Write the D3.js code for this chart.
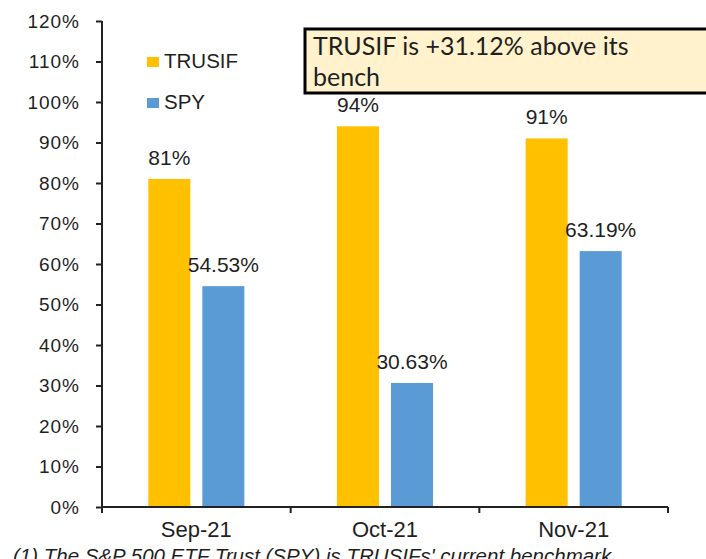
<!DOCTYPE html>
<meta charset="utf-8">
<script src="https://d3js.org/d3.v7.min.js"></script>
<style>
  body { margin: 0; background: #fff; }
  svg text { font-family: "Liberation Sans", Arial, sans-serif; fill: #1f1f1f; }
</style>
<div id="chart"></div>
<script>

// data
var months = ["Sep-21", "Oct-21", "Nov-21"];
var seriesNames = ["TRUSIF", "SPY"];
var trusif = [0.81, 0.94, 0.91];
var spy = [0.5453, 0.3063, 0.6319];
var trusifLabels = ["81%", "94%", "91%"];
var spyLabels = ["54.53%", "30.63%", "63.19%"];
var yTicks = [0, 0.1, 0.2, 0.3, 0.4, 0.5, 0.6, 0.7, 0.8, 0.9, 1.0, 1.1, 1.2];
var colors = ["#FFC000", "#5B9BD5"];

var W = 706, H = 559;
var plot = {left: 102, right: 668, top: 21, bottom: 507};

var svg = d3.select("#chart").append("svg")
  .attr("width", W).attr("height", H);

var x = d3.scaleBand().domain(months).range([plot.left, plot.right]).padding(0);
var xs = d3.scaleBand().domain(seriesNames).range([0, x.bandwidth()])
  .paddingInner(0.222).paddingOuter(0.857);
var y = d3.scaleLinear().domain([0, 1.2]).range([plot.bottom, plot.top]);

// bars
var flat = [];
months.forEach(function(m, i) {
  flat.push({month: m, name: "TRUSIF", value: trusif[i], label: trusifLabels[i]});
  flat.push({month: m, name: "SPY", value: spy[i], label: spyLabels[i]});
});

svg.selectAll("rect.bar").data(flat).enter().append("rect")
  .attr("class", "bar")
  .attr("x", function(d) { return x(d.month) + xs(d.name); })
  .attr("y", function(d) { return y(d.value); })
  .attr("width", xs.bandwidth())
  .attr("height", function(d) { return y(0) - y(d.value); })
  .attr("fill", function(d) { return d.name == "TRUSIF" ? colors[0] : colors[1]; });

svg.selectAll("text.lbl").data(flat).enter().append("text")
  .attr("class", "lbl")
  .attr("x", function(d) { return x(d.month) + xs(d.name) + xs.bandwidth() / 2; })
  .attr("y", function(d) { return y(d.value) - 14; })
  .attr("text-anchor", "middle")
  .style("font-size", "21px")
  .text(function(d) { return d.label; });

// y axis
var yAxis = svg.append("g")
  .attr("transform", "translate(" + plot.left + ",0)")
  .call(d3.axisLeft(y).tickValues(yTicks).tickFormat(d3.format(".0%")).tickSize(6).tickPadding(16));
yAxis.select(".domain").remove();
yAxis.selectAll("line").attr("stroke", "#222").attr("stroke-width", 2);
yAxis.selectAll("text").style("font-size", "19px").style("letter-spacing", "1px")
  .attr("font-family", null).attr("fill", "#1f1f1f");

svg.append("line")
  .attr("x1", plot.left).attr("x2", plot.left).attr("y1", plot.top).attr("y2", plot.bottom + 6)
  .attr("stroke", "#222").attr("stroke-width", 2);

// x axis
var xAxis = svg.append("g")
  .attr("transform", "translate(0," + plot.bottom + ")")
  .call(d3.axisBottom(x).tickSize(0).tickPadding(14));
xAxis.select(".domain").remove();
xAxis.selectAll("text").style("font-size", "22px").attr("font-family", null).attr("fill", "#1f1f1f");

svg.append("line")
  .attr("x1", plot.left).attr("x2", plot.right).attr("y1", plot.bottom).attr("y2", plot.bottom)
  .attr("stroke", "#222").attr("stroke-width", 2);
svg.selectAll("line.xtick").data(d3.range(months.length + 1)).enter().append("line")
  .attr("class", "xtick")
  .attr("x1", function(i) { return plot.left + i * x.step(); })
  .attr("x2", function(i) { return plot.left + i * x.step(); })
  .attr("y1", plot.bottom).attr("y2", plot.bottom + 6)
  .attr("stroke", "#222").attr("stroke-width", 2);

// legend
var legend = svg.selectAll("g.leg").data(seriesNames).enter().append("g")
  .attr("class", "leg")
  .attr("transform", function(d, i) { return "translate(147," + (57 + i * 41) + ")"; });
legend.append("rect").attr("width", 12).attr("height", 10)
  .attr("fill", function(d, i) { return colors[i]; });
legend.append("text").attr("x", 17).attr("y", 10.5)
  .style("font-size", "20.5px")
  .text(function(d) { return d; });

// annotation box
svg.append("rect")
  .attr("x", 305).attr("y", 29).attr("width", 410).attr("height", 64)
  .attr("fill", "#FFF2CC").attr("stroke", "#000").attr("stroke-width", 3);
var note = svg.append("text")
  .style("font-family", "Lato, 'Open Sans', sans-serif")
  .style("font-size", "25px").attr("fill", "#111");
note.append("tspan").attr("x", 313).attr("y", 55).text("TRUSIF is +31.12% above its");
note.append("tspan").attr("x", 313).attr("y", 86).text("bench");

// footnote
svg.append("text")
  .attr("x", 13).attr("y", 563)
  .style("font-size", "20.5px").style("font-style", "italic")
  .text("(1) The S&P 500 ETF Trust (SPY) is TRUSIFs' current benchmark");

</script>
